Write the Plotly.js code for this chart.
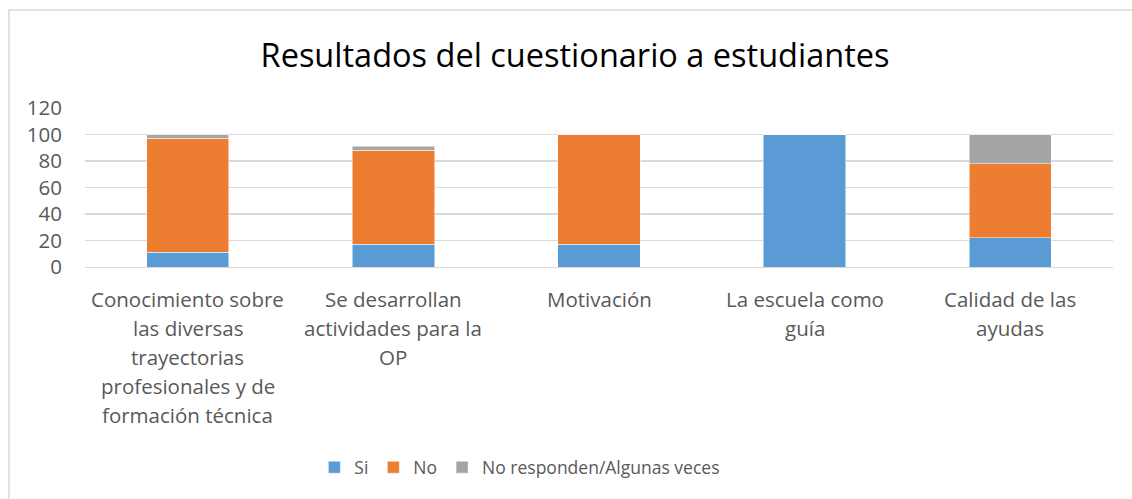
<!DOCTYPE html>
<html>
<head>
<meta charset="utf-8">
<script src="https://cdn.plot.ly/plotly-3.0.1.min.js"></script>
<style>html,body{margin:0;padding:0;background:#fff;}#chart{width:1132px;height:499px;}</style>
</head>
<body>
<div id="chart"></div>
<script>
const categories = [
  "Conocimiento sobre<br>las diversas<br>trayectorias<br>profesionales y de<br>formación técnica",
  "Se desarrollan<br>actividades para la<br>OP",
  "Motivación",
  "La escuela como<br>guía",
  "Calidad de las<br>ayudas"
];
const seriesNames = ["Si", "No", "No responden/Algunas veces"];
const si = [11, 17, 17, 100, 22];
const no = [86, 71, 83, 0, 56];
const noResponden = [3, 3, 0, 0, 22];
const colors = ["#5b9bd5", "#ed7d31", "#a5a5a5"];
const yTicks = [0, 20, 40, 60, 80, 100, 120];

const values = [si, no, noResponden];
const data = values.map((v, i) => ({
  type: "bar",
  name: seriesNames[i],
  x: categories,
  y: v,
  marker: {color: colors[i], line: {color: "#ffffff", width: 0.5}},
  hoverinfo: "none"
}));

const font = "'Open Sans', sans-serif";
const labelColor = "#595959";

// category labels, one annotation per line for Excel-like line spacing
const annotations = [];
categories.forEach((c) => {
  c.split("<br>").forEach((line, j) => {
    annotations.push({
      x: c, xref: "x", y: 0, yref: "y",
      text: line, showarrow: false,
      xanchor: "center", yanchor: "middle",
      yshift: -(32 + 29 * j),
      font: {family: font, size: 20.5, color: labelColor}
    });
  });
});

const layout = {
  width: 1132, height: 499,
  margin: {l: 85, r: 19, t: 108, b: 232, pad: 0},
  paper_bgcolor: "#ffffff", plot_bgcolor: "#ffffff",
  barmode: "stack",
  bargap: 0.6,
  showlegend: true,
  title: {
    text: "Resultados del cuestionario a estudiantes",
    font: {family: font, size: 32.5, color: "#000000"},
    x: 0.508, xanchor: "center", y: 0.888, yanchor: "middle"
  },
  font: {family: font, color: labelColor, size: 18},
  xaxis: {
    type: "category",
    showgrid: false, zeroline: false,
    showline: true, linecolor: "#d9d9d9", linewidth: 1,
    ticks: "", showticklabels: false
  },
  yaxis: {
    range: [0, 120], tickvals: yTicks, ticktext: yTicks.map(String),
    showgrid: true, gridcolor: "#d9d9d9", gridwidth: 1.3,
    zeroline: false, showline: false, ticks: "",
    ticklabelstandoff: 22,
    tickfont: {family: font, size: 20.5, color: labelColor}
  },
  legend: {
    orientation: "h", x: 0.423, xanchor: "center", y: -1.26, yanchor: "middle",
    font: {family: font, size: 17.5, color: labelColor},
    traceorder: "normal", itemwidth: 20
  },
  annotations: annotations,
  shapes: [{
    type: "rect", xref: "paper", yref: "paper",
    x0: -0.0739, x1: 1.2, y0: -1.8, y1: 1.616,
    line: {color: "#d9d9d9", width: 1.5}, fillcolor: "rgba(0,0,0,0)", layer: "below"
  }]
};

Plotly.newPlot("chart", data, layout, {displayModeBar: false, staticPlot: true});
</script>
</body>
</html>
